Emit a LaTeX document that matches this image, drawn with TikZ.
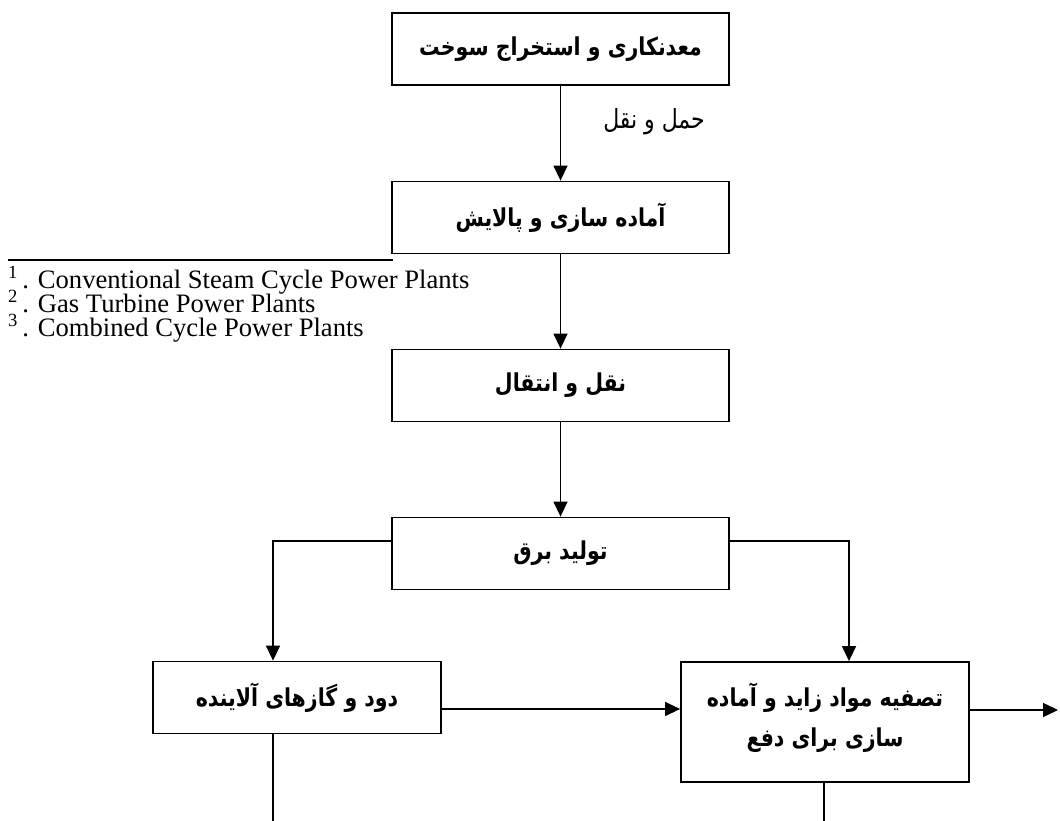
\documentclass[tikz,border=0pt]{standalone}
\usepackage{fontspec}
\usepackage{graphicx}
\setmainfont{Liberation Serif}
\newfontfamily\arabicfont[Script=Arabic]{DejaVu Sans}
\TeXXeTstate=1
\newcommand\artext[1]{\scalebox{1}[1.2]{\beginR#1\endR}}
\usetikzlibrary{arrows.meta,calc}
\begin{document}
\begin{tikzpicture}[x=1pt,y=-1pt,
  box/.style={draw, line width=1.8pt, minimum width=337pt, minimum height=72pt, inner sep=0pt,
    font=\arabicfont\bfseries\fontsize{20.5}{40}\selectfont, align=center},
  smallbox/.style={box, minimum width=288pt},
  conn/.style={line width=1.4pt},
  arr/.style={conn, -{Triangle[length=15pt,width=14pt]}},
  lbl/.style={font=\arabicfont\fontsize{22}{24}\selectfont, inner sep=0pt},
  foot/.style={font=\fontsize{26.6}{28}\selectfont, inner sep=0pt, anchor=base west}]
\useasboundingbox (0,0) rectangle (1060,821);

\node[box] (b1) at (560.5,49) {\artext{معدنکاری و استخراج سوخت}};
\node[box] (b2) at (560.5,217.5) {\artext{آماده سازی و پالایش}};
\node[box] (b3) at (560.5,385.5) {\artext{نقل و انتقال}};
\node[box] (b4) at (560.5,553.5) {\artext{تولید برق}};
\node[smallbox] (b5) at (297,697.5) {\artext{دود و گازهای آلاینده}};
\node[smallbox, minimum height=120pt] (b6) at (825,722) {};
\node[font=\arabicfont\bfseries\fontsize{20.5}{40}\selectfont, align=center, inner sep=0pt] (b6t) at (825,718) {\artext{تصفیه مواد زاید و آماده}\\\artext{سازی برای دفع}};

\node[lbl] (t1) at (654,122) {\artext{حمل و نقل}};

\draw[arr] (b1) -- (b2);
\draw[arr] (b2) -- (b3);
\draw[arr] (b3) -- (b4);

\coordinate (L) at (273,541);
\coordinate (R) at (849,541);
\draw[arr] (b4.west |- L) -- (L) -- (L |- b5.north);
\draw[arr] (b4.east |- R) -- (R) -- (R |- b6.north);

\coordinate (M) at (0,709);
\draw[arr] (b5.east |- M) -- (b6.west |- M);
\coordinate (out) at (1058,710);
\draw[arr] (b6.east |- out) -- (out);

\coordinate (d5) at (273,821);
\draw[conn] (d5 |- b5.south) -- (d5);
\coordinate (d6) at (824,821);
\draw[conn] (d6 |- b6.south) -- (d6);

% footnotes
\coordinate (fl) at (8,260);
\coordinate (fr) at (393,260);
\draw[line width=1.3pt] (fl) -- (fr);
\node[foot] (f1) at (8,288) {\textsuperscript{1}\,. Conventional Steam Cycle Power Plants};
\node[foot] (f2) at (8,312) {\textsuperscript{2}\,. Gas Turbine Power Plants};
\node[foot] (f3) at (8,336) {\textsuperscript{3}\,. Combined Cycle Power Plants};
\end{tikzpicture}
\end{document}
